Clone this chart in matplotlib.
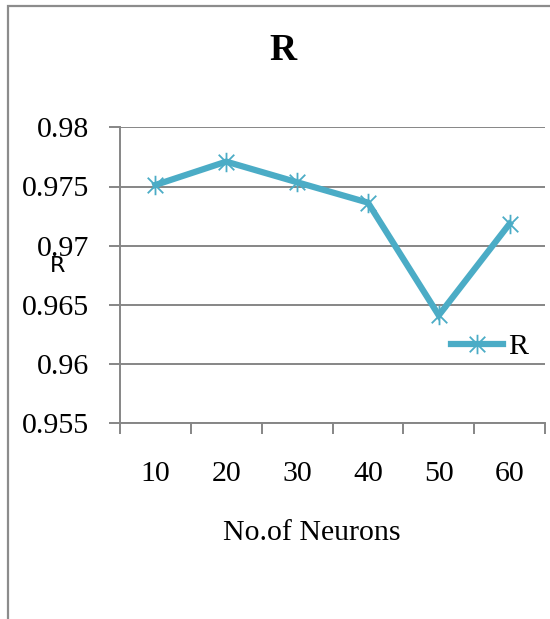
import matplotlib
matplotlib.use("Agg")
import matplotlib.pyplot as plt
from matplotlib.path import Path
from matplotlib.patches import Rectangle

# data
neurons = ["10", "20", "30", "40", "50", "60"]
r_values = [0.97513, 0.9771, 0.97536, 0.97364, 0.96412, 0.97185]
y_ticks = [0.955, 0.96, 0.965, 0.97, 0.975, 0.98]
y_tick_labels = ["0.955", "0.96", "0.965", "0.97", "0.975", "0.98"]

LINE_COLOR = "#4BACC6"
GRID_COLOR = "#868686"
SERIF = ["Liberation Serif", "DejaVu Serif"]

# excel-like asterisk marker: X plus vertical bar
star = Path([(-1, -1), (1, 1), (-1, 1), (1, -1), (0, -1.25), (0, 1.25)],
            [Path.MOVETO, Path.LINETO, Path.MOVETO, Path.LINETO,
             Path.MOVETO, Path.LINETO])

W, H = 550, 619
fig = plt.figure(figsize=(W / 100, H / 100), dpi=100)

# chart frame (left and top edges visible)
fig.patches.append(Rectangle((7.5 / W, -0.1), 1.2, 1 - 5.5 / H + 0.1,
                             transform=fig.transFigure, fill=False,
                             edgecolor="#8c8c8c", linewidth=1.6))

left, right = 120 / W, 545 / W
top, bottom = 1 - 127.3 / H, 1 - 423.3 / H
ax = fig.add_axes([left, bottom, right - left, top - bottom])

x = list(range(len(neurons)))
ax.plot(x, r_values, color=LINE_COLOR, linewidth=4.5, marker=star,
        markersize=14, markeredgewidth=1.3, markeredgecolor=LINE_COLOR,
        solid_joinstyle="miter", label="R")

ax.set_xlim(-0.5, len(neurons) - 0.5)
ax.set_ylim(y_ticks[0], y_ticks[-1])
ax.set_yticks(y_ticks)
ax.set_yticklabels(y_tick_labels, fontfamily=SERIF, fontsize=21.5)
ax.yaxis.grid(True, color=GRID_COLOR, linewidth=1.4)
ax.set_axisbelow(True)

# category boundaries as major ticks, labels on minor ticks
ax.set_xticks([i - 0.5 for i in range(len(neurons) + 1)])
ax.set_xticklabels([])
ax.set_xticks(x, minor=True)
ax.set_xticklabels(neurons, minor=True, fontfamily=SERIF, fontsize=21.5)
ax.tick_params(axis="x", which="major", length=8, width=1.4,
               color=GRID_COLOR, direction="out")
ax.tick_params(axis="x", which="minor", length=0, pad=27)
ax.tick_params(axis="y", length=8, width=1.4, color=GRID_COLOR, pad=14)

for side in ["top", "right"]:
    ax.spines[side].set_visible(False)
for side in ["left", "bottom"]:
    ax.spines[side].set_color(GRID_COLOR)
    ax.spines[side].set_linewidth(1.4)

fig.text(283 / W, 1 - 50 / H, "R", fontfamily=SERIF, fontsize=27,
         fontweight="bold", ha="center", va="center")
fig.text(312 / W, 1 - 533 / H, "No.of Neurons", fontfamily=SERIF,
         fontsize=21.5, ha="center", va="center")
fig.text(58 / W, 1 - 266 / H, "R", fontsize=16, ha="center", va="center")

leg = fig.legend(loc="center left", bbox_to_anchor=(451 / W, 1 - 347 / H),
                 frameon=False, borderpad=0, borderaxespad=0,
                 handlelength=1.75, handletextpad=0.15,
                 prop={"family": SERIF, "size": 21.5})

fig.savefig("out.png", dpi=100)
